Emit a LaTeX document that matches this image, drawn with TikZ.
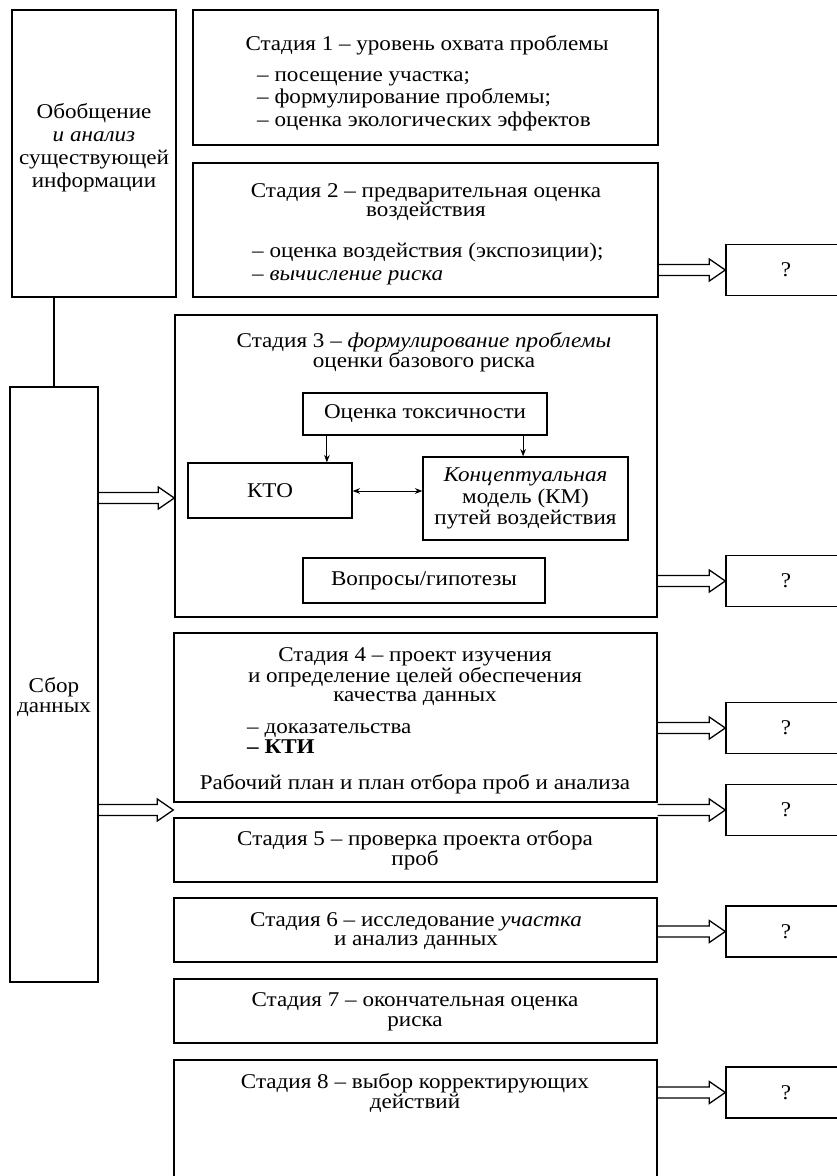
\documentclass[tikz,border=0pt]{standalone}
\usepackage{fontspec}
\setmainfont[FakeStretch=1.1]{Liberation Serif}
\usetikzlibrary{calc,arrows.meta}
\tikzset{
  bx/.style={draw,line width=1.4pt,inner sep=0pt},
  qb/.style={draw,line width=1.4pt,inner sep=0pt,minimum width=120,minimum height=51,font=\fontsize{21}{20}\selectfont},
  ib/.style={draw,line width=1.3pt,inner sep=0pt,align=center,font=\fontsize{21}{21.5}\selectfont},
  tx/.style={inner sep=0pt,align=center,font=\fontsize{21}{19.5}\selectfont},
  ls/.style={inner sep=0pt,align=left,anchor=west,font=\fontsize{21}{22.5}\selectfont},
  bg/.style={inner sep=0pt,align=center,font=\fontsize{21}{23}\selectfont},
  ln/.style={line width=1.4pt},
  ar/.style={-{Stealth[length=2.6mm,width=2mm]},line width=1pt},
  dar/.style={{Stealth[length=2.6mm,width=2mm]}-{Stealth[length=2.6mm,width=2mm]},line width=1pt},
  hol/.style={line width=1.3pt,line join=miter}
}
\newcommand{\bigarrow}[2]{\draw[hol] let \p1=(#1), \p2=(#2) in
  (\x1,\y1+5.5pt) -- (\x2-16pt,\y1+5.5pt) -- (\x2-16pt,\y1+11pt) -- (\x2,\y1)
  -- (\x2-16pt,\y1-11pt) -- (\x2-16pt,\y1-5.5pt) -- (\x1,\y1-5.5pt);}
\begin{document}
\begin{tikzpicture}[x=1pt,y=-1pt]
\useasboundingbox (0,0) rectangle (837,1176);
\clip (0,0) rectangle (837,1176);
% left column
\node[bx,minimum width=164,minimum height=287] (obob) at (94,153.5) {};
\node[bx,minimum width=88,minimum height=595] (sbor) at (54,684.5) {};
\node[bg] (obobt) at (94,148) {Обобщение\\\textit{и анализ}\\существующей\\информации};
\node[bg,font=\fontsize{21}{19.5}\selectfont] (sbort) at (54,697) {Сбор\\данных};
\draw[ln] (sbor.north) -- (sbor.north |- obob.south);
% stages
\node[bx,minimum width=465,minimum height=135] (s1) at (425.5,77.5) {};
\node[bx,minimum width=465,minimum height=134] (s2) at (425.5,230) {};
\node[bx,minimum width=482,minimum height=302] (s3) at (416,466) {};
\node[bx,minimum width=483,minimum height=169] (s4) at (415.5,717.5) {};
\node[bx,minimum width=483,minimum height=64] (s5) at (415.5,850) {};
\node[bx,minimum width=483,minimum height=64] (s6) at (415.5,930) {};
\node[bx,minimum width=483,minimum height=64] (s7) at (415.5,1011) {};
\node[bx,minimum width=483,minimum height=140] (s8) at (415.5,1130) {};
\node[tx] (s1t) at (427,45) {Стадия 1 – уровень охвата проблемы};
\node[ls] (s1l) at (257,101) {– посещение участка;\\– формулирование проблемы;\\– оценка экологических эффектов};
\node[tx] (s2t) at (426,202) {Стадия 2 – предварительная оценка\\воздействия};
\node[ls] (s2l) at (252,264) {– оценка воздействия (экспозиции);\\– \textit{вычисление риска}};
\node[tx] (s3t) at (424,352) {Стадия 3 – \textit{формулирование проблемы}\\оценки базового риска};
\node[tx] (s4t) at (415,677) {Стадия 4 – проект изучения\\и определение целей обеспечения\\качества данных};
\node[ls,font=\fontsize{21}{20}\selectfont] (s4l) at (247,739) {– доказательства\\\textbf{– КТИ}};
\node[tx] (s4p) at (415,784) {Рабочий план и план отбора проб и анализа};
\node[tx] (s5t) at (415,850) {Стадия 5 – проверка проекта отбора\\проб};
\node[tx] (s6t) at (416,931) {Стадия 6 – исследование \textit{участка}\\и анализ данных};
\node[tx] (s7t) at (415,1012) {Стадия 7 – окончательная оценка\\риска};
\node[tx] (s8t) at (415,1093) {Стадия 8 – выбор корректирующих\\действий};
% inside stage 3
\node[ib,minimum width=244,minimum height=42] (tox) at (425,414) {Оценка токсичности};
\node[ib,minimum width=164,minimum height=55] (kto) at (270,490.5) {КТО};
\node[ib,minimum width=205,minimum height=83] (km) at (525.5,498.5) {\textit{Концептуальная}\\модель (КМ)\\путей воздействия};
\node[ib,minimum width=242,minimum height=45] (vop) at (424,580.5) {Вопросы/гипотезы};
\coordinate (t1) at ($(tox.south west)!0.1!(tox.south east)$);
\coordinate (t2) at ($(tox.south west)!0.9!(tox.south east)$);
\draw[ar] (t1) -- (t1 |- kto.north);
\draw[ar] (t2) -- (t2 |- km.north);
\draw[dar] (kto.east |- 0,491) -- (km.west |- 0,491);
% question boxes
\foreach \qq/\yy in {1/270,2/581,3/728,4/810,5/931.5,6/1092.5}{\node[qb] (q\qq) at (786,\yy) {?};}
\foreach \st/\qq in {s2/1,s3/2,s4/3,s6/5,s8/6}{\bigarrow{\st.east |- q\qq.west}{q\qq.west}}
\bigarrow{s4.south east |- q4.west}{q4.west}
% inputs from data collection
\coordinate (in3) at (s3.west |- 0,498);
\bigarrow{sbor.east |- in3}{in3}
\bigarrow{sbor.east |- q4.west}{s5.north west |- q4.west}
\end{tikzpicture}
\end{document}
